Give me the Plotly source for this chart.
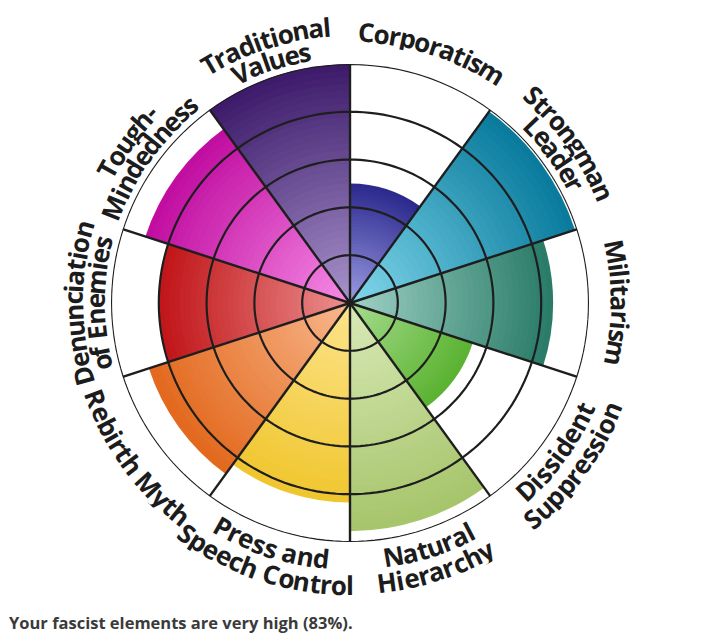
import math
import plotly.graph_objects as go

# ---------------- data ----------------
categories = ["Corporatism", "Strongman Leader", "Militarism", "Dissident Suppression",
              "Natural Hierarchy", "Press and Speech Control", "Rebirth Myth",
              "Denunciation of Enemies", "Tough-Mindedness", "Traditional Values"]
scores = [0.50, 0.99, 0.85, 0.54, 0.955, 0.835, 0.885, 0.80, 0.90, 1.00]
label_lines = [["Corporatism"], ["Strongman", "Leader"], ["Militarism"],
               ["Dissident", "Suppression"], ["Natural", "Hierarchy"],
               ["Press and", "Speech Control"], ["Rebirth Myth"],
               ["Denunciation", "of Enemies"], ["Tough-", "Mindedness"],
               ["Traditional", "Values"]]
ring_levels = [0.2, 0.4, 0.6, 0.8, 1.0]
summary = "Your fascist elements are very high (83%)."

# ---------------- style ----------------
inner_colors = ["#9c9ce4", "#82d8ec", "#a0d2c6", "#a6dc8e", "#d9eab8",
                "#fde48e", "#f9b88e", "#ec9090", "#f68ce6", "#a994cc"]
outer_colors = ["#2a288c", "#087a9c", "#287a66", "#5ab230", "#a6c46a",
                "#f0c62e", "#e2681c", "#c01418", "#c00ca0", "#3c1a6a"]

# the page body has an 8px margin, so the figure is drawn 8px smaller/offset
OFF = 8
W, H = 718 - 2 * OFF, 642 - 2 * OFF
CX, CY, R = 350 - OFF, 303 - OFF, 239
SECTOR = 360 / len(categories)
FS = 26
LABEL_FONT = dict(family="Open Sans", size=FS, color="#1c1c1c", weight=700)


def hex2rgb(h):
    h = h.lstrip("#")
    return [int(h[i:i + 2], 16) for i in (0, 2, 4)]


def mix(c1, c2, t):
    a, b = hex2rgb(c1), hex2rgb(c2)
    return "rgb(%d,%d,%d)" % tuple(round(a[i] + (b[i] - a[i]) * t) for i in range(3))


fig = go.Figure()

# gradient wedges: concentric overlaid bars from outer (dark) to inner (light)
N = 36
for i, (cat, v) in enumerate(zip(categories, scores)):
    th = SECTOR / 2 + SECTOR * i
    rs, cols = [], []
    for k in range(N - 1, -1, -1):
        rs.append(v * (k + 1) / N)
        cols.append(mix(inner_colors[i], outer_colors[i], (k + 0.5) / N))
    fig.add_trace(go.Barpolar(
        r=rs, theta=[th] * N, width=[SECTOR] * N, name=cat,
        marker=dict(color=cols, line=dict(width=0)),
        hoverinfo="skip", showlegend=False))

# ring grid (drawn above wedges)
ring_theta = list(range(0, 361, 2))
for lv in ring_levels:
    fig.add_trace(go.Scatterpolar(
        r=[lv] * len(ring_theta), theta=ring_theta, mode="lines",
        line=dict(color="#1e1e1e", width=2.2), hoverinfo="skip",
        showlegend=False, cliponaxis=False))

# spokes
sp_r, sp_t = [], []
for i in range(len(categories)):
    sp_r += [0, ring_levels[-1], None]
    sp_t += [SECTOR * i, SECTOR * i, None]
fig.add_trace(go.Scatterpolar(
    r=sp_r, theta=sp_t, mode="lines", line=dict(color="#1e1e1e", width=2.4),
    hoverinfo="skip", showlegend=False, cliponaxis=False))

# ---------------- curved labels ----------------
CW = {' ': .26, 'a': .59, 'b': .617, 'c': .50, 'd': .617, 'e': .576, 'f': .368,
      'g': .553, 'h': .641, 'i': .305, 'j': .305, 'k': .609, 'l': .305, 'm': .951,
      'n': .641, 'o': .607, 'p': .617, 'q': .617, 'r': .445, 's': .492, 't': .418,
      'u': .641, 'v': .562, 'w': .83, 'x': .58, 'y': .562, 'z': .485,
      'C': .647, 'D': .738, 'H': .744, 'L': .529, 'M': .90, 'N': .776, 'P': .635,
      'R': .667, 'S': .557, 'T': .568, 'V': .648, '-': .322}
SPACING = 0.965

annotations = []


def place(text, r, center_deg, clockwise):
    widths = [CW.get(ch, .6) * FS * SPACING for ch in text]
    total = sum(widths)
    s = 0.0
    for ch, w in zip(text, widths):
        mid = s + w / 2 - total / 2
        s += w
        if ch == " ":
            continue
        d = math.degrees(mid / r)
        if clockwise:
            phi = center_deg + d
            rot = phi
        else:
            phi = center_deg - d
            rot = phi - 180
        rot = (rot + 180) % 360 - 180
        x = CX + r * math.sin(math.radians(phi))
        y = CY - r * math.cos(math.radians(phi))
        annotations.append(dict(x=x / W, y=1 - y / H, xref="paper", yref="paper",
                                text=ch, showarrow=False, textangle=rot, borderpad=0,
                                height=FS, valign="middle",
                                xanchor="center", yanchor="middle", font=LABEL_FONT))


for i, lines in enumerate(label_lines):
    c = SECTOR / 2 + SECTOR * i
    clockwise = not (90 < c < 270)
    if len(lines) == 1:
        radii = [271]
    elif clockwise:
        radii = [277, 255]
    else:
        radii = [257, 282]
    for text, r in zip(lines, radii):
        place(text, r, c, clockwise)

annotations.append(dict(x=0, y=1 - (622 - OFF) / H, xref="paper", yref="paper",
                        text=summary, showarrow=False, xanchor="left", yanchor="middle",
                        borderpad=0,
                        font=dict(family="Open Sans", size=16.5, color="#3a3a3a", weight=700)))

fig.update_layout(
    width=W, height=H, margin=dict(l=0, r=0, t=0, b=0),
    paper_bgcolor="white", plot_bgcolor="white",
    polar=dict(
        domain=dict(x=[(CX - R) / W, (CX + R) / W], y=[1 - (CY + R) / H, 1 - (CY - R) / H]),
        bgcolor="white", barmode="overlay",
        radialaxis=dict(range=[0, 1], visible=False, showgrid=False),
        angularaxis=dict(rotation=90, direction="clockwise", visible=False, showgrid=False),
    ),
    annotations=annotations,
)

fig.write_html("out.html")
